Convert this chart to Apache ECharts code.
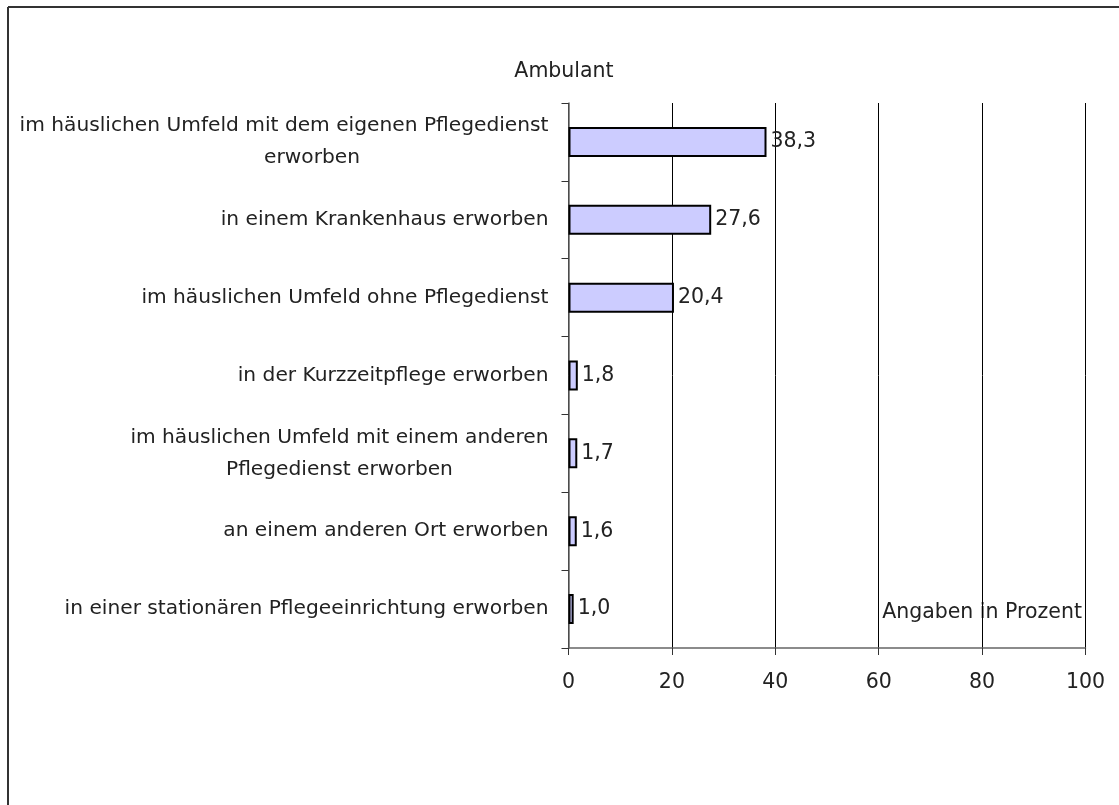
<!DOCTYPE html>
<html>
<head>
<meta charset="utf-8">
<script src="https://cdn.jsdelivr.net/npm/echarts@6/dist/echarts.min.js"></script>
<style>
html,body{margin:0;padding:0;background:#fff;}
#chart{width:1119px;height:805px;}
</style>
</head>
<body>
<div id="chart"></div>
<script>
const categories = [
  "im häuslichen Umfeld mit dem eigenen Pflegedienst\nerworben",
  "in einem Krankenhaus erworben",
  "im häuslichen Umfeld ohne Pflegedienst",
  "in der Kurzzeitpflege erworben",
  "im häuslichen Umfeld mit einem anderen\nPflegedienst erworben",
  "an einem anderen Ort erworben",
  "in einer stationären Pflegeeinrichtung erworben"
];
const values = [38.3, 27.6, 20.4, 1.8, 1.7, 1.6, 1.0];
const xTicks = [0, 20, 40, 60, 80, 100];
const titleText = "Ambulant";
const unitText = "Angaben in Prozent";

const FONT = "'DejaVu Sans', sans-serif";
const chart = echarts.init(document.getElementById('chart'));
chart.setOption({
  backgroundColor: '#fff',
  animation: false,
  grid: {left: 568.5, right: 33.5, top: 103, bottom: 157, containLabel: false},
  xAxis: {
    type: 'value', min: xTicks[0], max: xTicks[xTicks.length - 1], interval: 20,
    axisLine: {show: true, lineStyle: {color: '#666', width: 1.5}},
    axisTick: {show: true, length: 7, lineStyle: {color: '#333'}},
    splitLine: {show: true, lineStyle: {color: '#000', width: 1}},
    axisLabel: {fontFamily: FONT, fontSize: 20.5, color: '#222', margin: 24,
      formatter: v => xTicks.includes(v) ? String(v) : ''}
  },
  yAxis: {
    type: 'category', inverse: true, data: categories,
    axisLine: {show: true, lineStyle: {color: '#666', width: 1.5}},
    axisTick: {show: true, length: 7, lineStyle: {color: '#333'}},
    axisLabel: {
      margin: 20, align: 'right',
      formatter: (v, i) => v.split('\n').map((s, j) => '{' + (i === 0 && j === 1 ? 'd' : 'c') + '|' + s + '}').join('\n'),
      rich: {
        c: {fontFamily: FONT, fontSize: 20.2, color: '#222', align: 'center', lineHeight: 32},
        d: {fontFamily: FONT, fontSize: 20.2, color: '#222', align: 'center', lineHeight: 32, padding: [0, 0, 0, 56]}
      }
    }
  },
  series: [{
    type: 'bar', data: values, barWidth: 30,
    itemStyle: {color: '#ccccff', borderColor: '#000', borderWidth: 2},
    label: {show: true, position: 'right', distance: 4, fontFamily: FONT, fontSize: 20.5, color: '#222',
      formatter: p => p.value.toFixed(1).replace('.', ',')}
  }],
  graphic: [
    {type: 'line', shape: {x1: 8, y1: 7, x2: 1119, y2: 7}, style: {stroke: '#333', lineWidth: 2}},
    {type: 'line', shape: {x1: 8, y1: 7, x2: 8, y2: 805}, style: {stroke: '#333', lineWidth: 2}},
    {type: 'text', x: 564, y: 72, style: {text: titleText, font: '20.5px ' + FONT, fill: '#222', textAlign: 'center', textVerticalAlign: 'middle'}},
    {type: 'text', x: 1082, y: 613, style: {text: unitText, font: '20.5px ' + FONT, fill: '#222', textAlign: 'right', textVerticalAlign: 'middle'}}
  ]
});
</script>
</body>
</html>
